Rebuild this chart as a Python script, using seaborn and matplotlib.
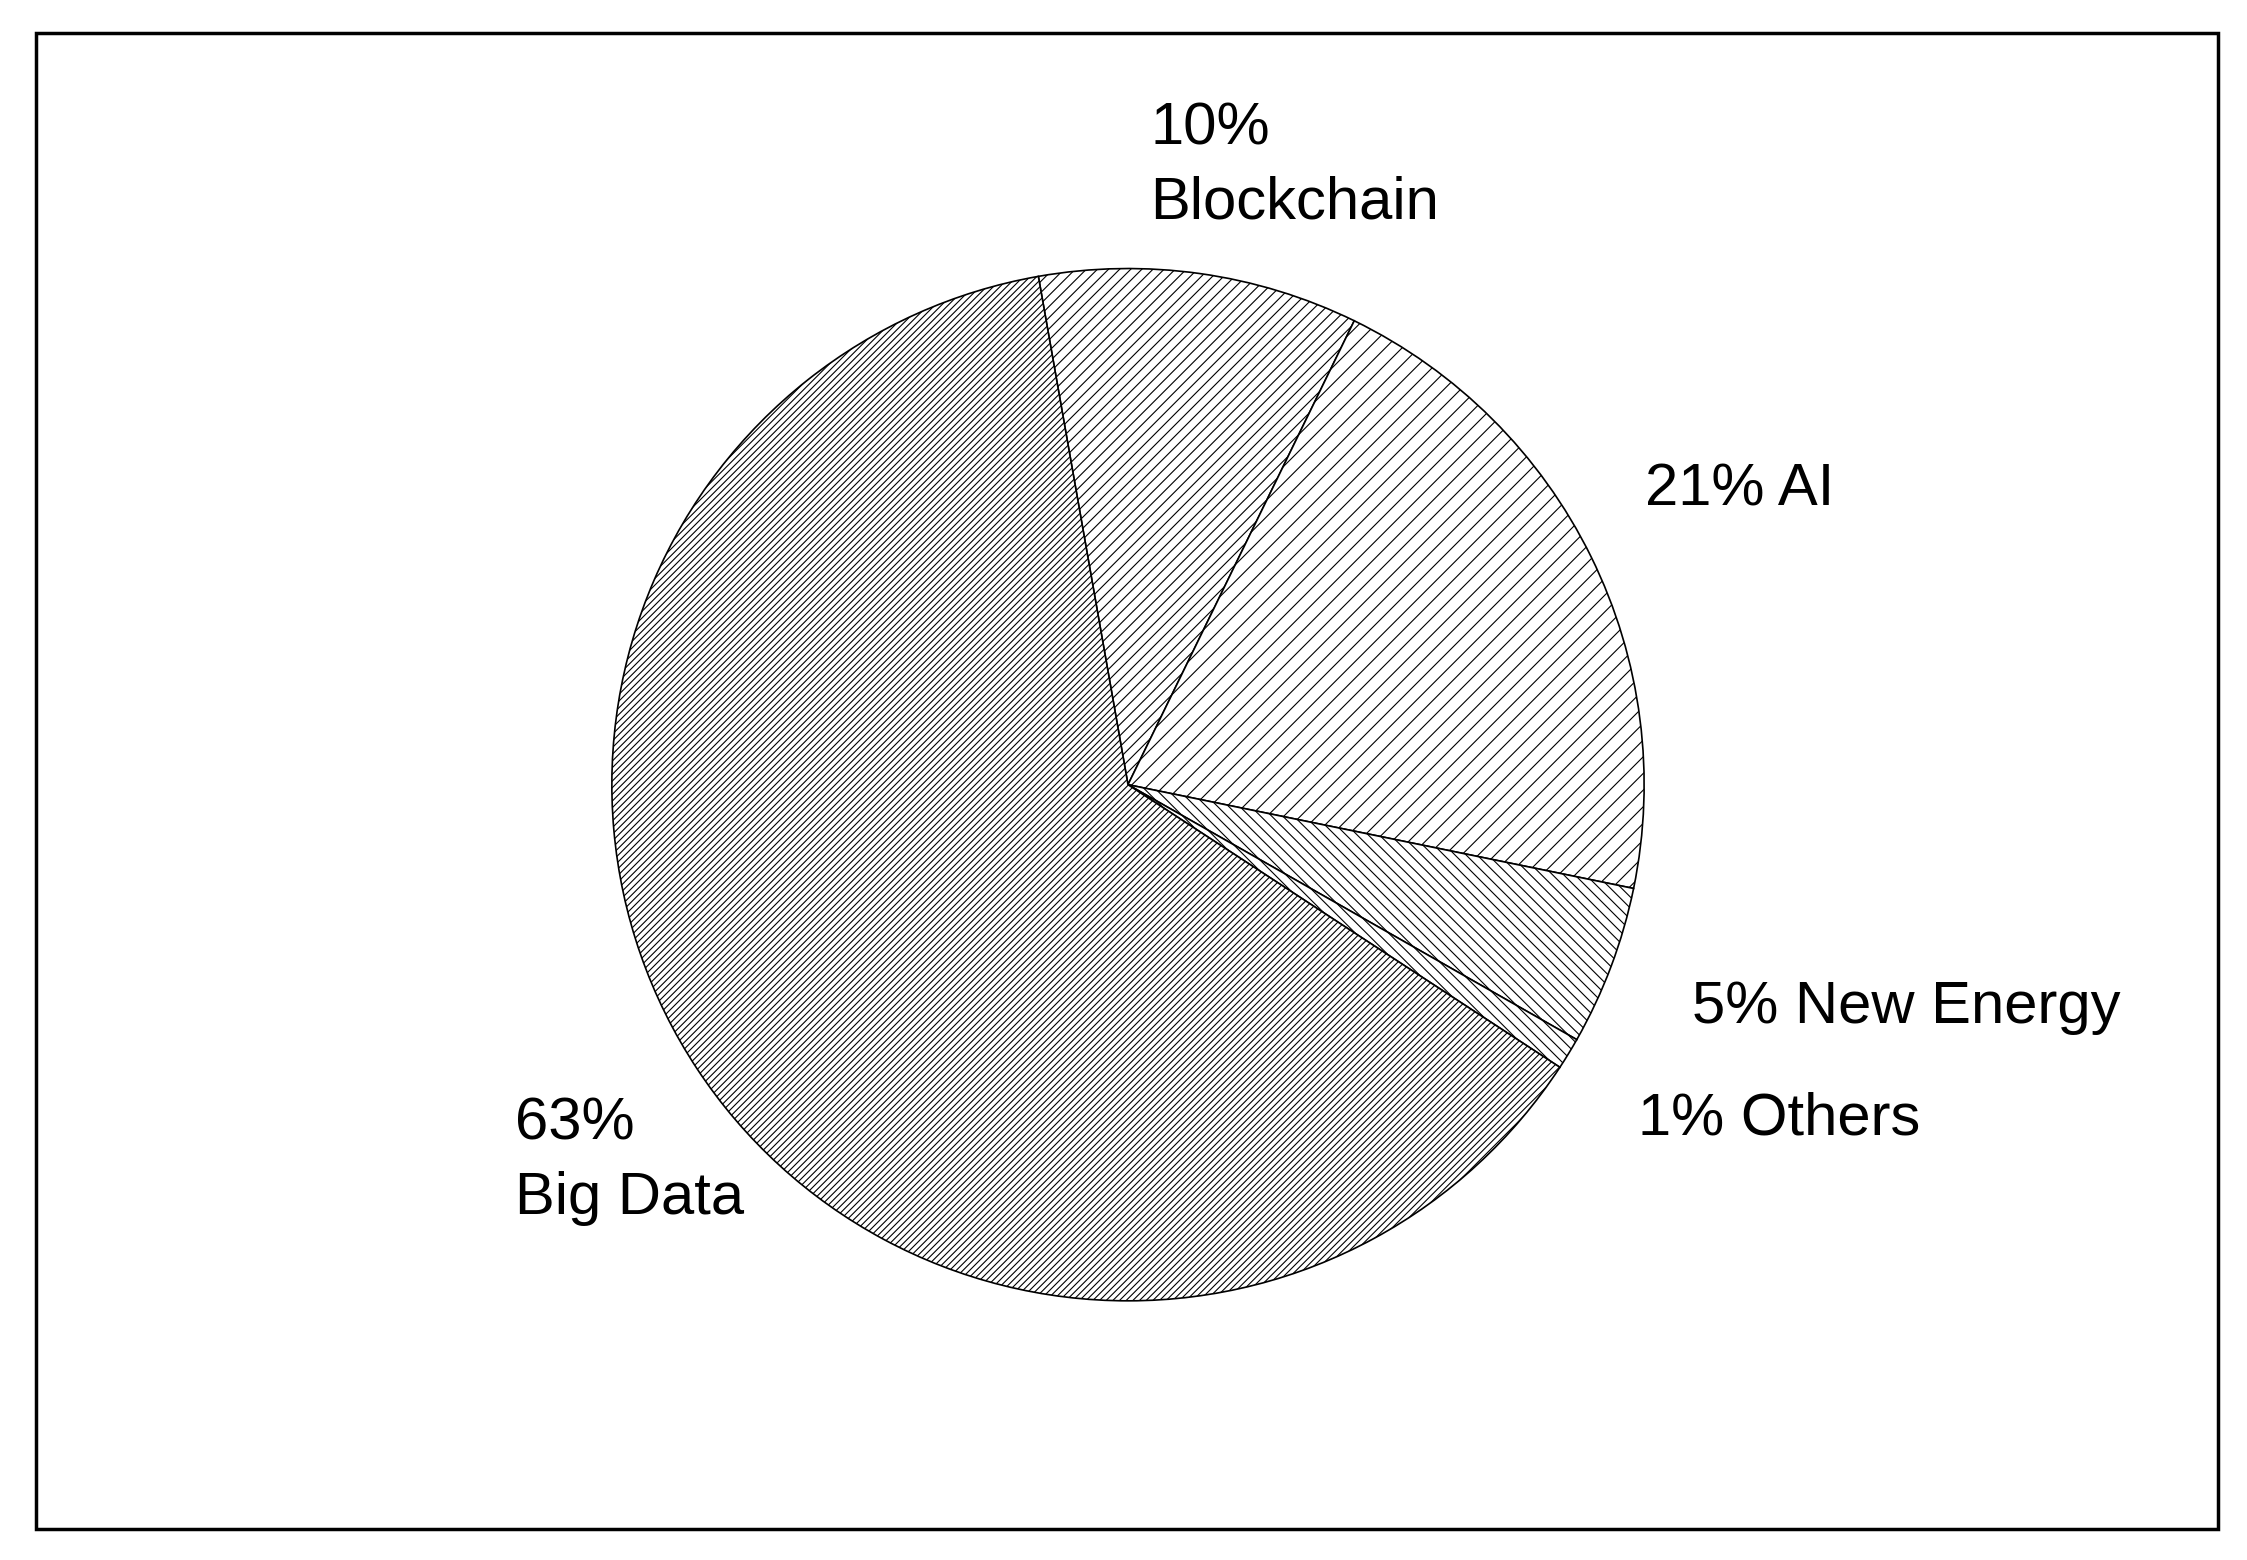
import matplotlib
matplotlib.use("Agg")
import matplotlib.pyplot as plt
import seaborn as sns
from matplotlib.patches import Rectangle

# Data
categories = ["Blockchain", "AI", "New Energy", "Others", "Big Data"]
shares = [10, 21, 5, 1, 63]
hatches = ["///", "//", "\\\\\\", "\\\\\\", "/////"]

sns.set_theme(style="white")
plt.rcParams["font.family"] = ["Liberation Sans", "DejaVu Sans"]
plt.rcParams["hatch.linewidth"] = 0.8

fig = plt.figure(figsize=(22.47, 15.6), dpi=100)
fig.patch.set_facecolor("white")

# frame around the chart area
fig.add_artist(Rectangle((0.016, 0.020), 0.971, 0.959, transform=fig.transFigure,
                         fill=False, edgecolor="black", linewidth=2.5))

cx, cy, rw, rh = 0.502, 0.497, 0.232, 0.335
ax = fig.add_axes([cx - rw, cy - rh, 2 * rw, 2 * rh])
wedges, _ = ax.pie(shares, startangle=100, counterclock=False,
                   colors=["white"] * len(shares),
                   wedgeprops=dict(edgecolor="black", linewidth=1.2))
for w, h in zip(wedges, hatches):
    w.set_hatch(h)
ax.set_xlim(-1.01, 1.01)
ax.set_ylim(-1.01, 1.01)
ax.axis("off")

fs = 43
kw = dict(fontsize=fs, color="black", ha="left", linespacing=1.45)
fig.text(0.512, 0.935, f"{shares[0]}%\n{categories[0]}", va="top", **kw)
fig.text(0.732, 0.686, f"{shares[1]}% {categories[1]}", va="center", **kw)
fig.text(0.753, 0.354, f"{shares[2]}% {categories[2]}", va="center", **kw)
fig.text(0.729, 0.283, f"{shares[3]}% {categories[3]}", va="center", **kw)
fig.text(0.229, 0.297, f"{shares[4]}%\n{categories[4]}", va="top", **kw)

fig.savefig("out.png", dpi=100, facecolor="white")
